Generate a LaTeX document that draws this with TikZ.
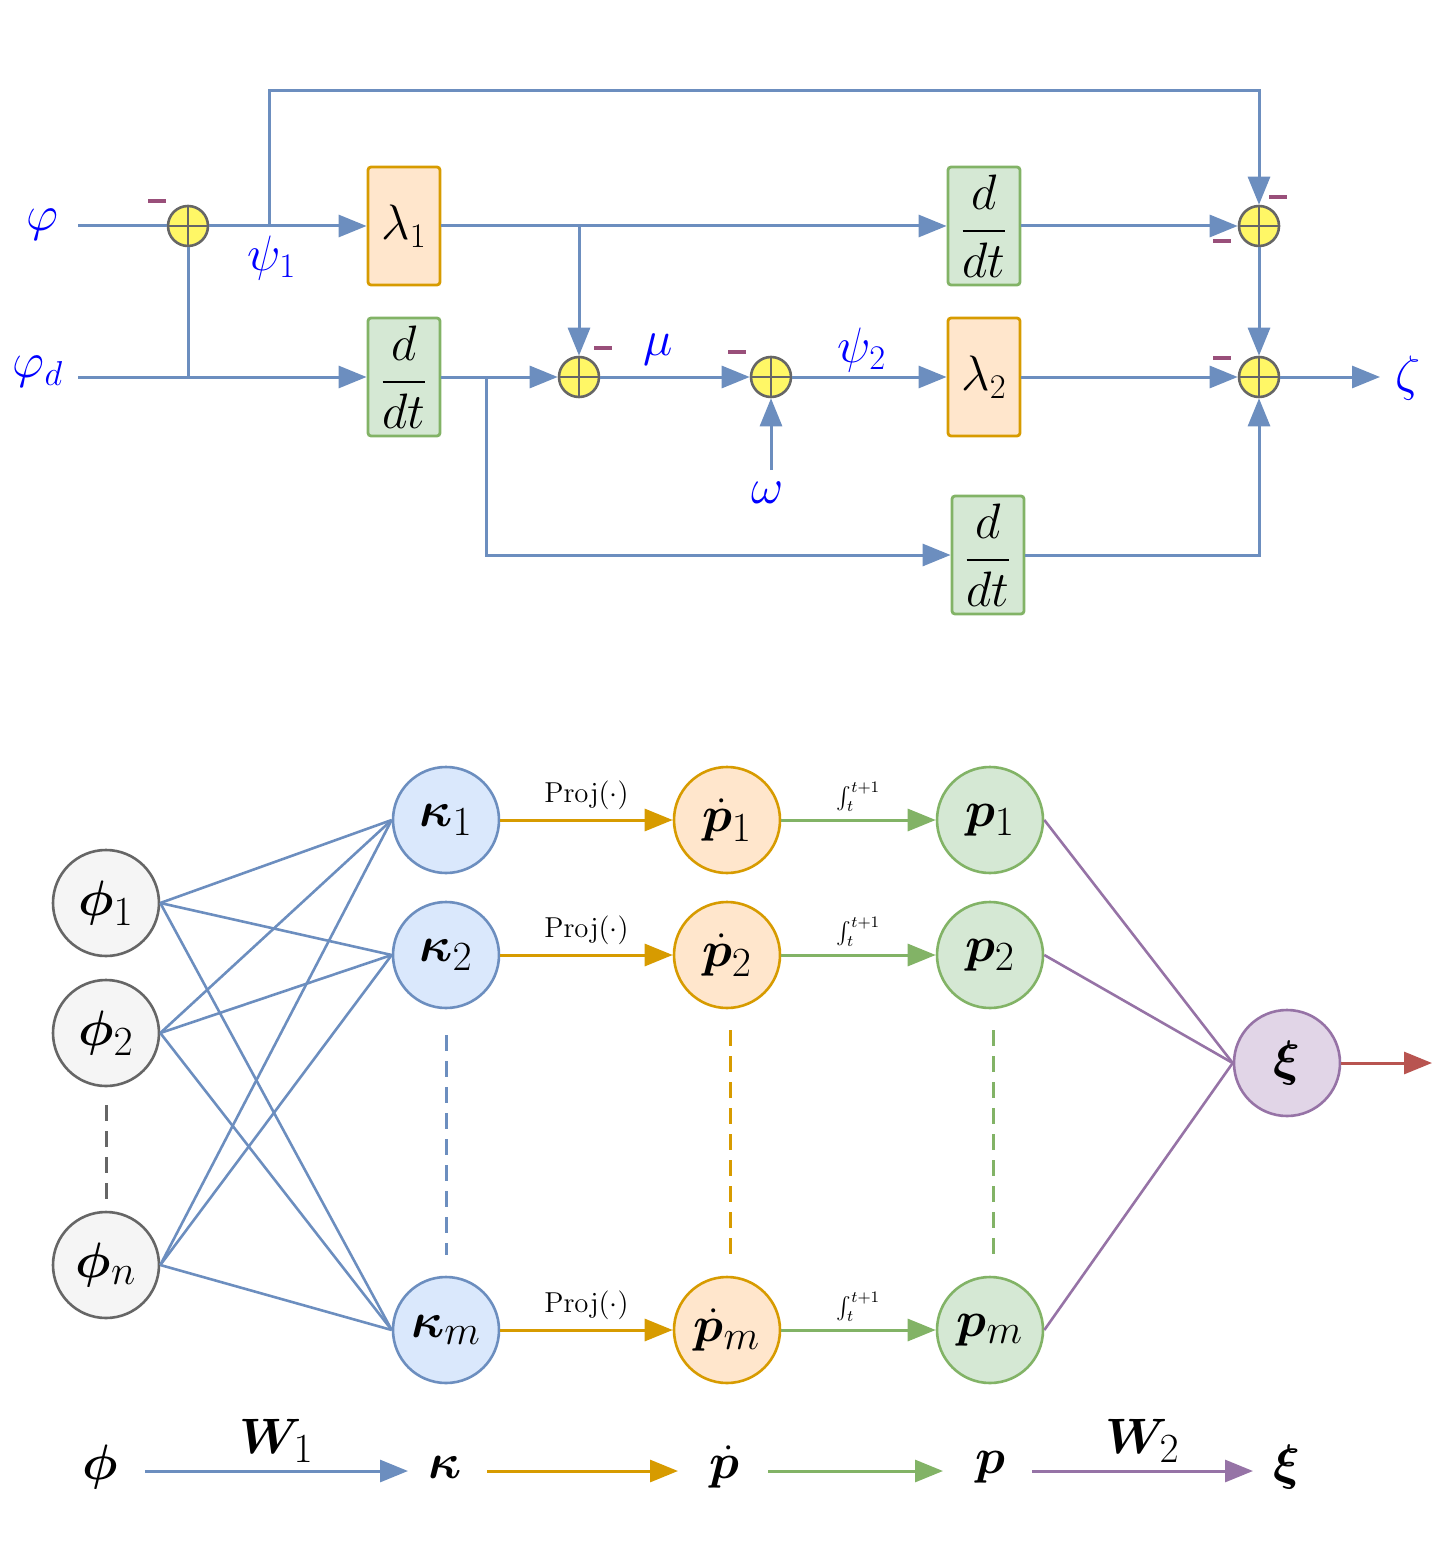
\documentclass[tikz,border=0pt]{standalone}
\usepackage{amsmath,bm}
\usetikzlibrary{arrows.meta}
\definecolor{bl}{HTML}{6C8EBF}\definecolor{blf}{HTML}{DAE8FC}
\definecolor{or}{HTML}{D79B00}\definecolor{orf}{HTML}{FFE6CC}
\definecolor{gr}{HTML}{82B366}\definecolor{grf}{HTML}{D5E8D4}
\definecolor{pu}{HTML}{9673A6}\definecolor{puf}{HTML}{E1D5E7}
\definecolor{rd}{HTML}{B85450}\definecolor{gy}{HTML}{666666}\definecolor{gyf}{HTML}{F5F5F5}
\definecolor{mncol}{HTML}{994F7A}
\begin{document}
\begin{tikzpicture}[x=0.5pt,y=-0.5pt,
 ln/.style={bl,line width=1.5pt},
 ar/.style={ln,-{Triangle[length=14pt,width=11pt]}},
 sumn/.style={circle,draw=gy,fill=yellow!60,line width=1.3pt,minimum size=20pt,inner sep=0pt,
   path picture={\draw[gy,line width=1.3pt] (path picture bounding box.north)--(path picture bounding box.south)(path picture bounding box.west)--(path picture bounding box.east);}},
 box/.style={draw,rounded corners=1.5pt,line width=1.4pt,minimum width=36pt,minimum height=59pt,inner sep=0pt,font=\fontsize{23}{26}\selectfont},
 obox/.style={box,draw=or,fill=orf},
 gbox/.style={box,draw=gr,fill=grf},
 lab/.style={text=blue,font=\fontsize{23}{26}\selectfont},
 minus/.style={fill=mncol,minimum width=9pt,minimum height=2pt,inner sep=0pt},
 nd/.style={circle,line width=1.3pt,minimum size=53pt,inner sep=0pt,font=\fontsize{28}{32}\selectfont},
 sm/.style={font=\fontsize{15}{17}\selectfont},
 lg/.style={font=\fontsize{29}{33}\selectfont},
 ]
\useasboundingbox (0,0) rectangle (1452,1567);
% top
\node[lab] (phi) at (42,225) {$\varphi$};
\node[lab] (phid) at (38,372) {$\varphi_d$};
\node[sumn] (s1) at (188,226) {};
\node[sumn] (s2) at (579,377) {};
\node[sumn] (s3) at (771,377) {};
\node[sumn] (s4) at (1259,226) {};
\node[sumn] (s5) at (1259,377) {};
\node[obox] (l1) at (404,226) {$\lambda_1$};
\node[gbox] (d1) at (404,377) {$\dfrac{d}{dt}$};
\node[gbox] (d2) at (984,226) {$\dfrac{d}{dt}$};
\node[obox] (l2) at (984,377) {$\lambda_2$};
\node[gbox] (d3) at (988,555) {$\dfrac{d}{dt}$};
\node[lab] at (272,258) {$\psi_1$};
\node[lab] at (658,350) {$\mu$};
\node[lab] at (862,350) {$\psi_2$};
\node[lab] (om) at (768,493) {$\omega$};
\node[lab,font=\fontsize{30}{34}\selectfont] (ze) at (1408,378) {$\zeta$};
\foreach \p in {(157,201),(603,348),(737,352),(1278,197),(1222,241),(1222,358)} \node[minus] at \p {};
\coordinate (a1) at (78,226); \coordinate (a2) at (78,377);
\draw[ln] (a1)--(s1);
\draw[ar] (s1)--(l1);
\draw[ln] (a2)--(188,377)--(s1);
\draw[ar] (188,377)--(d1);
\draw[ar] (269,226)--(269,91)--(1259,91)--(s4);
\draw[ar] (l1)--(d2);
\draw[ar] (579,226)--(s2);
\draw[ar] (d1)--(s2);
\draw[ar] (486,377)--(486,555)--(d3);
\draw[ar] (s2)--(s3);
\draw[ar] (771,470)--(s3);
\draw[ar] (s3)--(l2);
\draw[ar] (d2)--(s4);
\draw[ar] (s4)--(s5);
\draw[ar] (l2)--(s5);
\draw[ar] (d3)--(1259,555)--(s5);
\draw[ar] (s5)--(1380,377);
% bottom
\foreach \n/\y/\t in {1/903/1,2/1033/2,3/1265/n}
  \node[nd,draw=gy,fill=gyf] (f\n) at (106,\y) {$\bm{\phi}_{\t}$};
\foreach \n/\y/\t in {1/820/1,2/955/2,3/1330/m}{
  \node[nd,draw=bl,fill=blf] (k\n) at (446,\y) {$\bm{\kappa}_{\t}$};
  \node[nd,draw=or,fill=orf] (q\n) at (727,\y) {$\dot{\bm{p}}_{\t}$};
  \node[nd,draw=gr,fill=grf] (p\n) at (990,\y) {$\bm{p}_{\t}$};
  \draw[ar,or] (k\n)--(q\n) node[midway,above=1pt,black,sm]{$\mathrm{Proj}(\cdot)$};
  \draw[ar,gr] (q\n)--(p\n) node[midway,above=0pt,black,font=\fontsize{11}{12}\selectfont]{$\int_t^{t+1}$};
}
\node[nd,draw=pu,fill=puf] (xi) at (1287,1063) {$\bm{\xi}$};
\foreach \i in {1,2,3} \foreach \j in {1,2,3} \draw[ln,line width=1.3pt] (f\i.east)--(k\j.west);
\foreach \j in {1,2,3} \draw[ln,pu,line width=1.3pt] (p\j.east)--(xi.west);
\coordinate (xo) at (1432,1063);
\draw[ar,rd] (xi)--(xo);
\draw[ln,gy,dash pattern=on 8pt off 5pt] (106,1105)--(106,1200);
\draw[ln,bl,dash pattern=on 8pt off 5pt] (446,1035)--(446,1255);
\draw[ln,or,dash pattern=on 8pt off 5pt] (730,1030)--(730,1255);
\draw[ln,gr,dash pattern=on 8pt off 5pt] (993,1030)--(993,1255);
% legend
\node[lg] (L1) at (100,1467) {$\bm{\phi}$};
\node[lg] (L2) at (445,1467) {$\bm{\kappa}$};
\node[lg] (L3) at (724,1467) {$\dot{\bm{p}}$};
\node[lg] (L4) at (990,1467) {$\bm{p}$};
\node[lg] (L5) at (1287,1467) {$\bm{\xi}$};
\draw[ar] (145,1471)--(408,1471) node[midway,above=0pt,black,lg]{$\bm{W}_1$};
\draw[ar,or] (487,1471)--(678,1471);
\draw[ar,gr] (768,1471)--(943,1471);
\draw[ar,pu] (1032,1471)--(1253,1471) node[midway,above=0pt,black,lg]{$\bm{W}_2$};
\end{tikzpicture}
\end{document}
